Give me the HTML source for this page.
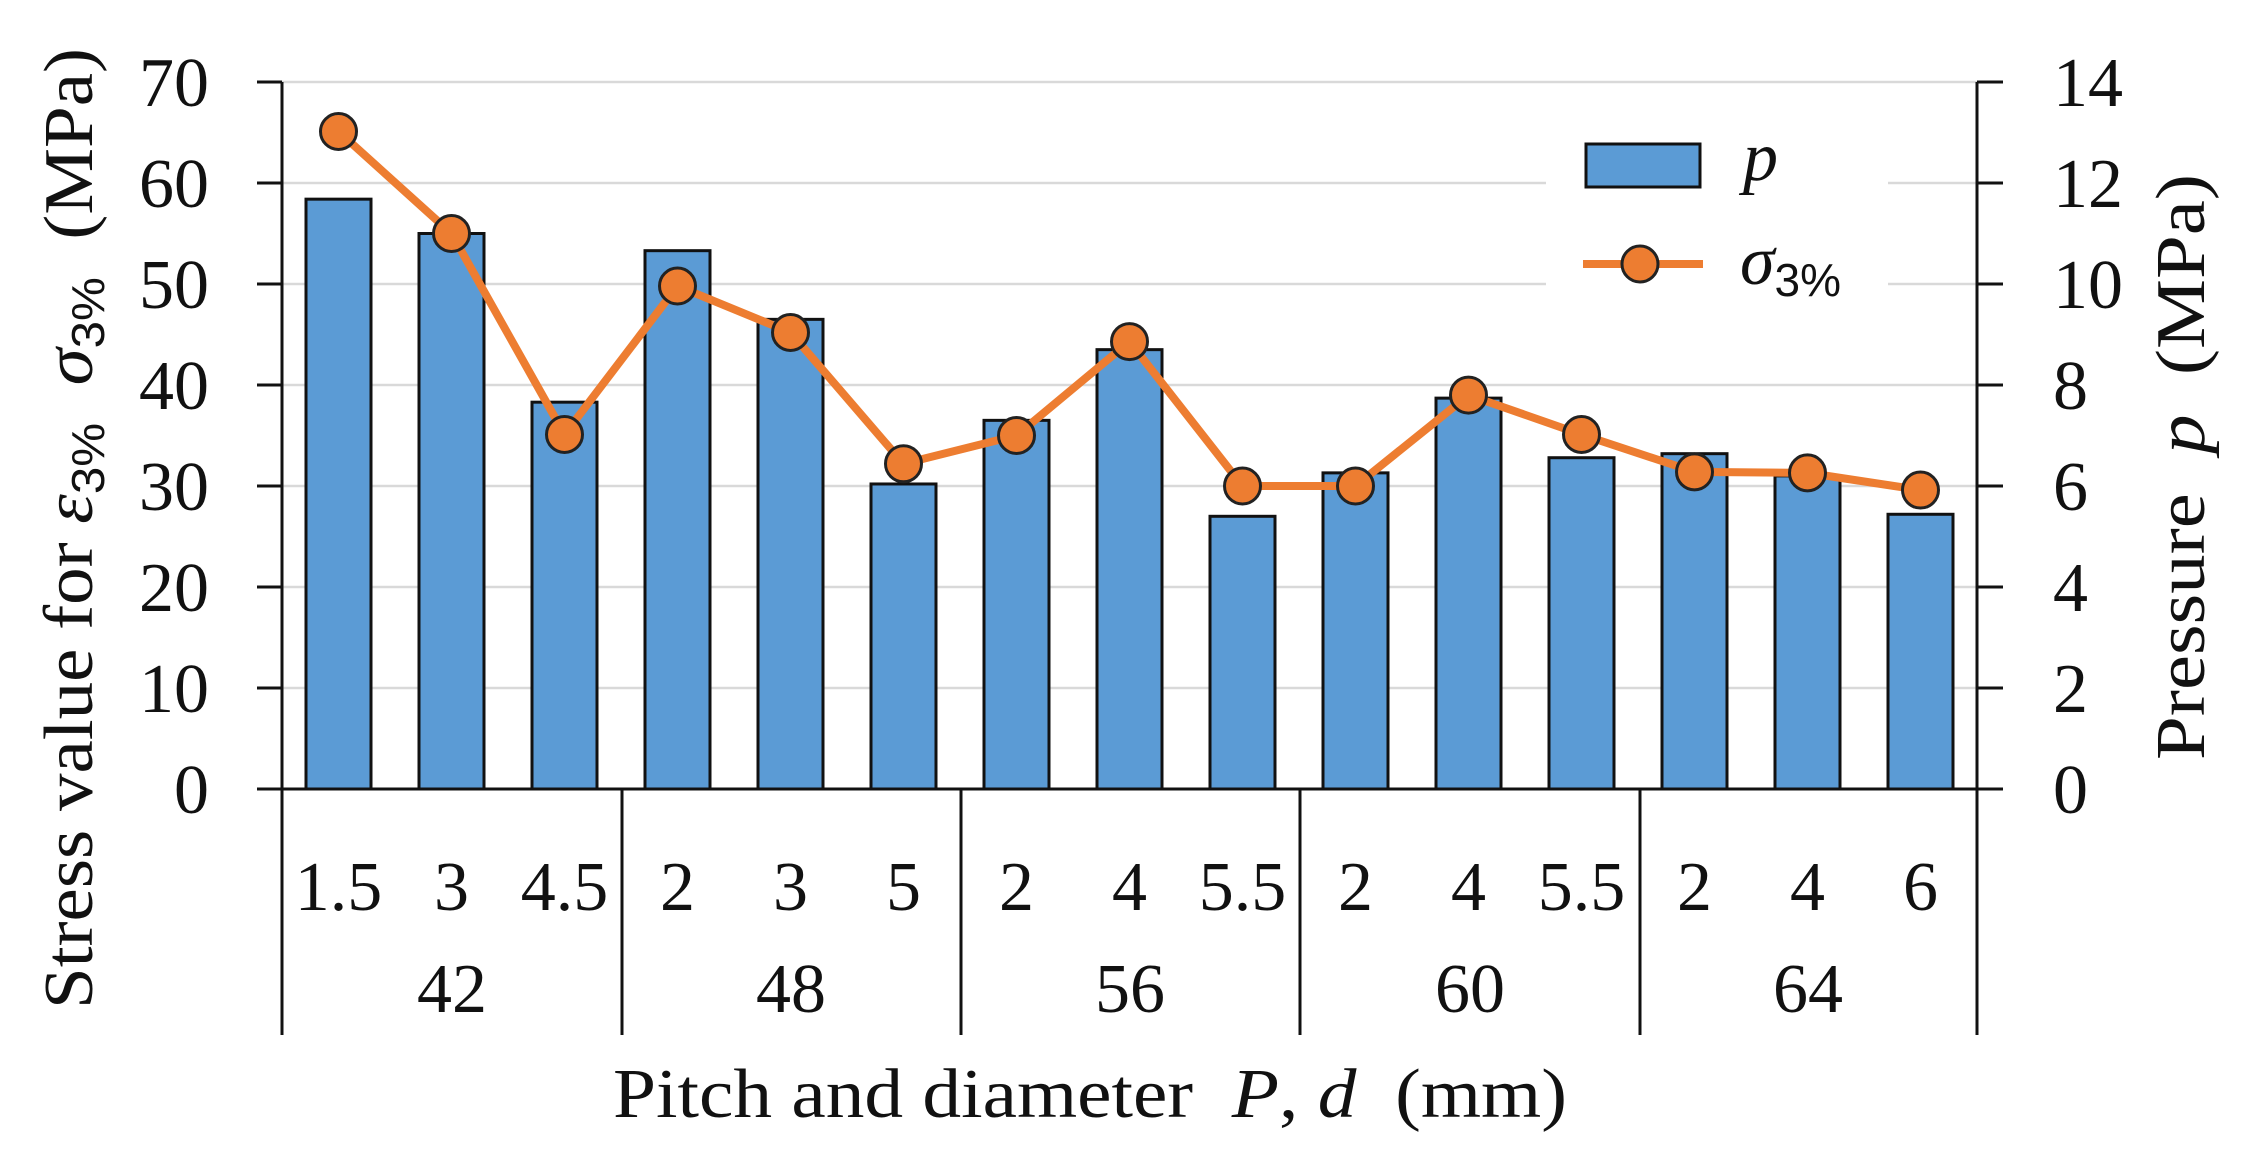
<!DOCTYPE html>
<html><head><meta charset="utf-8"><style>html,body{margin:0;padding:0;background:#fff}svg{display:block}svg text{font-family:"Liberation Serif",serif;white-space:pre}</style></head>
<body>
<svg width="2261" height="1163" viewBox="0 0 2261 1163" xmlns="http://www.w3.org/2000/svg" style="font-family:'Liberation Serif',serif">
<g stroke="#d9d9d9" stroke-width="2.5">
<line x1="282" y1="789" x2="1977" y2="789"/>
<line x1="282" y1="688" x2="1977" y2="688"/>
<line x1="282" y1="587" x2="1977" y2="587"/>
<line x1="282" y1="486" x2="1977" y2="486"/>
<line x1="282" y1="385" x2="1977" y2="385"/>
<line x1="282" y1="284" x2="1546" y2="284"/><line x1="1888" y1="284" x2="1977" y2="284"/>
<line x1="282" y1="183" x2="1546" y2="183"/><line x1="1888" y1="183" x2="1977" y2="183"/>
<line x1="282" y1="82" x2="1977" y2="82"/>
</g>
<g id="bars" fill="#5b9bd5" stroke="#111" stroke-width="3"></g>
<polyline id="ln" fill="none" stroke="#ed7d31" stroke-width="8" stroke-linejoin="round"/>
<g id="mk" fill="#ed7d31" stroke="#222" stroke-width="3"></g>
<g stroke="#111" stroke-width="3">
<line x1="282" y1="82" x2="282" y2="1035"/>
<line x1="1977" y1="82" x2="1977" y2="1035"/>
<line x1="257" y1="789" x2="2003" y2="789"/>
<line x1="622" y1="789" x2="622" y2="1035"/>
<line x1="961" y1="789" x2="961" y2="1035"/>
<line x1="1300" y1="789" x2="1300" y2="1035"/>
<line x1="1640" y1="789" x2="1640" y2="1035"/>
</g>
<g id="ticks" stroke="#111" stroke-width="3"></g>
<g id="lab" font-size="70" fill="#111"></g>
<rect x="1586" y="144" width="114" height="43" fill="#5b9bd5" stroke="#111" stroke-width="3"/>
<text x="1743" y="180" font-size="70" font-style="italic" fill="#111">p</text>
<line x1="1583" y1="264" x2="1703" y2="264" stroke="#ed7d31" stroke-width="8"/>
<circle cx="1640" cy="264" r="18" fill="#ed7d31" stroke="#222" stroke-width="3"/>
<text x="1740" y="284" font-size="70" fill="#111"><tspan font-style="italic">σ</tspan><tspan style="font-family:'Liberation Sans',sans-serif" font-size="46" dy="12">3%</tspan></text>
<text x="613" y="1117" font-size="70" fill="#111" textLength="954" lengthAdjust="spacingAndGlyphs">Pitch and diameter  <tspan font-style="italic">P</tspan>, <tspan font-style="italic">d</tspan>  (mm)</text>
<text transform="translate(92,1009) rotate(-90)" font-size="70" fill="#111" textLength="961" lengthAdjust="spacingAndGlyphs">Stress value for <tspan font-style="italic">ε</tspan><tspan style="font-family:'Liberation Sans',sans-serif" font-size="46" dy="12">3%</tspan><tspan dy="-12">  </tspan><tspan font-style="italic">σ</tspan><tspan style="font-family:'Liberation Sans',sans-serif" font-size="46" dy="12">3%</tspan><tspan dy="-12">  (MPa)</tspan></text>
<text transform="translate(2204,760) rotate(-90)" font-size="70" fill="#111" textLength="586" lengthAdjust="spacingAndGlyphs">Pressure  <tspan font-style="italic">p</tspan>  (MPa)</text>
</svg>
<script>
const NS="http://www.w3.org/2000/svg";
const bars=[58.4,55,38.3,53.3,46.5,30.2,36.5,43.5,27,31.3,38.7,32.8,33.2,31,27.2];
const line=[65.1,55,35.1,49.8,45.2,32.2,35,44.3,30,30,39,35.1,31.4,31.3,29.6];
const lbl=["1.5","3","4.5","2","3","5","2","4","5.5","2","4","5.5","2","4","6"];
const y=v=>789-v*10.1, cx=i=>282+113*(i+0.5);
function el(t,a,p,txt){const e=document.createElementNS(NS,t);for(const k in a)e.setAttribute(k,a[k]);if(txt!==undefined)e.textContent=txt;document.getElementById(p).appendChild(e);return e;}
let pts=[];
bars.forEach((v,i)=>{el("rect",{x:cx(i)-32.5,y:y(v),width:65,height:789-y(v)},"bars");pts.push(cx(i)+","+y(line[i]));
el("circle",{cx:cx(i),cy:y(line[i]),r:18},"mk");
el("text",{x:cx(i),y:910,"text-anchor":"middle"},"lab",lbl[i]);});
document.getElementById("ln").setAttribute("points",pts.join(" "));
for(let k=0;k<=7;k++){const yy=789-k*101;
el("line",{x1:257,y1:yy,x2:282,y2:yy},"ticks");el("line",{x1:1977,y1:yy,x2:2003,y2:yy},"ticks");
el("text",{x:209,y:yy+24,"text-anchor":"end"},"lab",String(k*10));
el("text",{x:2053,y:yy+24},"lab",String(k*2));}
[["42",452],["48",791],["56",1130],["60",1470],["64",1808]].forEach(g=>el("text",{x:g[1],y:1012,"text-anchor":"middle"},"lab",g[0]));
</script>
</body></html>
